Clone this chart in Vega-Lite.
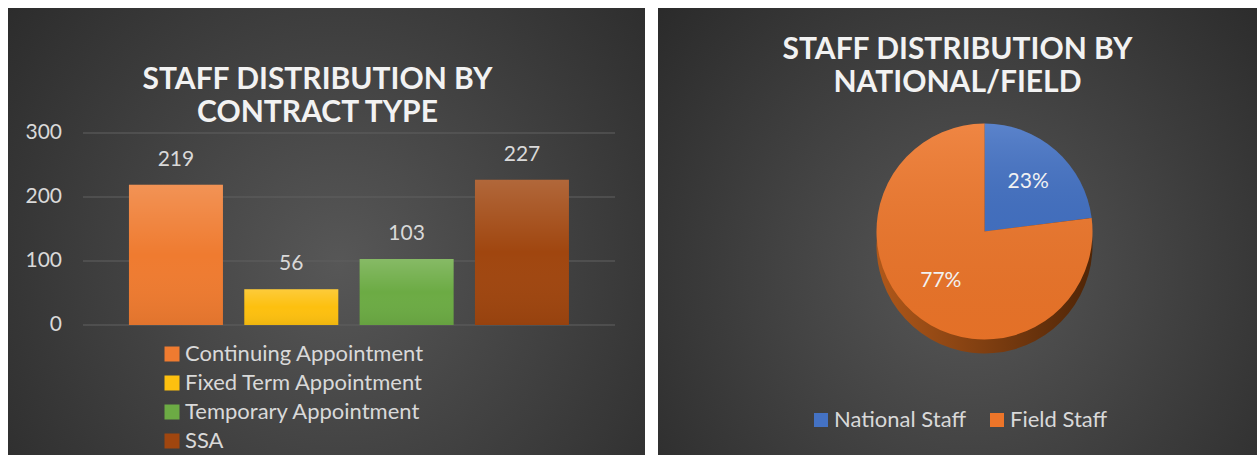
{
  "$schema": "https://vega.github.io/schema/vega-lite/v6.json",
  "background": "white",
  "padding": {"left": 8, "top": 8, "right": 0, "bottom": 0},
  "spacing": 13,
  "resolve": {"scale": {"color": "independent", "theta": "independent"}, "legend": {"color": "independent"}},
  "config": {
    "font": "Lato",
    "view": {"stroke": null},
    "title": {"font": "Lato", "fontWeight": "bold", "fontSize": 30, "color": "#f2f2f2", "lineHeight": 33, "anchor": "middle", "frame": "group"},
    "legend": {"labelFont": "Lato", "labelFontSize": 22, "labelColor": "#d9d9d9", "symbolType": "square", "symbolStrokeWidth": 0, "labelLimit": 400}
  },
  "hconcat": [
    {
      "width": 637,
      "height": 447,
      "view": {"stroke": null, "fill": {"gradient": "radial", "x1": 0.52, "y1": 0.55, "r1": 0, "x2": 0.52, "y2": 0.55, "r2": 0.72, "stops": [{"offset": 0, "color": "#575757"}, {"offset": 1, "color": "#282828"}]}},
      "title": {"text": ["STAFF DISTRIBUTION BY", "CONTRACT TYPE"], "offset": -120, "dx": -9},
      "data": {"values": [
        {"contract": "Continuing Appointment", "staff": 219},
        {"contract": "Fixed Term Appointment", "staff": 56},
        {"contract": "Temporary Appointment", "staff": 103},
        {"contract": "SSA", "staff": 227}
      ]},
      "layer": [
        {
          "data": {"values": [{"tick": 0}, {"tick": 100}, {"tick": 200}, {"tick": 300}]},
          "mark": {"type": "tick", "orient": "horizontal", "color": "#606060", "thickness": 1.5, "size": 532, "xOffset": 22.5},
          "encoding": {
            "y": {"field": "tick", "type": "quantitative", "axis": null,
                  "scale": {"domain": [-203, 495], "nice": false, "zero": false}}
          }
        },
        {
          "data": {"values": [{"tick": 0}, {"tick": 100}, {"tick": 200}, {"tick": 300}]},
          "mark": {"type": "text", "align": "right", "baseline": "middle", "xOffset": -264.5, "fontSize": 21, "font": "Lato", "color": "#d9d9d9"},
          "encoding": {
            "y": {"field": "tick", "type": "quantitative", "axis": null},
            "text": {"field": "tick", "type": "quantitative"}
          }
        },
        {
          "mark": {"type": "bar"},
          "encoding": {
            "x": {"field": "contract", "type": "nominal", "axis": null,
                  "scale": {"type": "band", "domain": ["Continuing Appointment", "Fixed Term Appointment", "Temporary Appointment", "SSA"], "paddingInner": 0.185, "paddingOuter": 0.854, "align": 0.614}},
            "y": {"field": "staff", "type": "quantitative", "axis": null},
            "y2": {"datum": 0},
            "color": {"field": "contract", "type": "nominal",
                      "scale": {"domain": ["Continuing Appointment", "Fixed Term Appointment", "Temporary Appointment", "SSA"], "range": ["#ef7b30", "#fdc00f", "#6cab44", "#a0460f"]},
                      "legend": {"title": null, "orient": "none", "legendX": 153, "legendY": 335, "direction": "vertical", "symbolSize": 225, "rowPadding": 7, "labelOffset": 2}}
          }
        },
        {
          "mark": {"type": "bar", "color": {"gradient": "linear", "x1": 0, "y1": 0, "x2": 0, "y2": 1, "stops": [{"offset": 0, "color": "rgba(255,255,255,0.18)"}, {"offset": 0.5, "color": "rgba(255,255,255,0)"}, {"offset": 1, "color": "rgba(0,0,0,0.06)"}]}},
          "encoding": {
            "x": {"field": "contract", "type": "nominal", "axis": null},
            "y": {"field": "staff", "type": "quantitative", "axis": null},
            "y2": {"datum": 0}
          }
        },
        {
          "mark": {"type": "text", "dy": -25, "baseline": "middle", "align": "center", "fontSize": 21, "font": "Lato", "color": "#d9d9d9"},
          "encoding": {
            "x": {"field": "contract", "type": "nominal", "axis": null},
            "y": {"field": "staff", "type": "quantitative", "axis": null},
            "text": {"field": "staff", "type": "quantitative"}
          }
        }
      ]
    },
    {
      "width": 599,
      "height": 447,
      "view": {"stroke": null, "fill": {"gradient": "radial", "x1": 0.52, "y1": 0.57, "r1": 0, "x2": 0.52, "y2": 0.57, "r2": 0.72, "stops": [{"offset": 0, "color": "#575757"}, {"offset": 1, "color": "#282828"}]}},
      "title": {"text": ["STAFF DISTRIBUTION BY", "NATIONAL/FIELD"], "offset": -90},
      "data": {"values": [
        {"group": "National Staff", "share": 0.23, "ord": 1},
        {"group": "Field Staff", "share": 0.77, "ord": 2}
      ]},
      "encoding": {
        "theta": {"field": "share", "type": "quantitative", "stack": true},
        "order": {"field": "ord", "type": "quantitative"}
      },
      "layer": [
        {
          "mark": {"type": "arc", "radius": 108, "xOffset": 27, "yOffset": 14, "color": {"gradient": "linear", "x1": 0, "y1": 0, "x2": 1, "y2": 0, "stops": [{"offset": 0, "color": "#b0581a"}, {"offset": 1, "color": "#4f2507"}]}},
          "encoding": {"detail": {"field": "group", "type": "nominal"}}
        },
        {
          "mark": {"type": "arc", "radius": 108, "xOffset": 27},
          "encoding": {
            "color": {"field": "group", "type": "nominal",
                      "scale": {"domain": ["National Staff", "Field Staff"], "range": ["#4472c4", "#ed7529"]},
                      "legend": {"title": null, "orient": "none", "legendX": 152, "legendY": 401, "direction": "horizontal", "symbolSize": 196, "labelOffset": 2, "columnPadding": 19}}
          }
        },
        {
          "mark": {"type": "arc", "radius": 108, "xOffset": 27, "color": {"gradient": "linear", "x1": 0, "y1": 0, "x2": 0, "y2": 1, "stops": [{"offset": 0, "color": "rgba(255,255,255,0.12)"}, {"offset": 1, "color": "rgba(0,0,0,0.04)"}]}},
          "encoding": {"detail": {"field": "group", "type": "nominal"}}
        },
        {
          "mark": {"type": "text", "radius": 66, "xOffset": 27, "fontSize": 21, "font": "Lato", "color": "#f2f2f2"},
          "encoding": {
            "text": {"field": "share", "type": "quantitative", "format": ".0%"},
            "detail": {"field": "group", "type": "nominal"}
          }
        }
      ]
    }
  ]
}
